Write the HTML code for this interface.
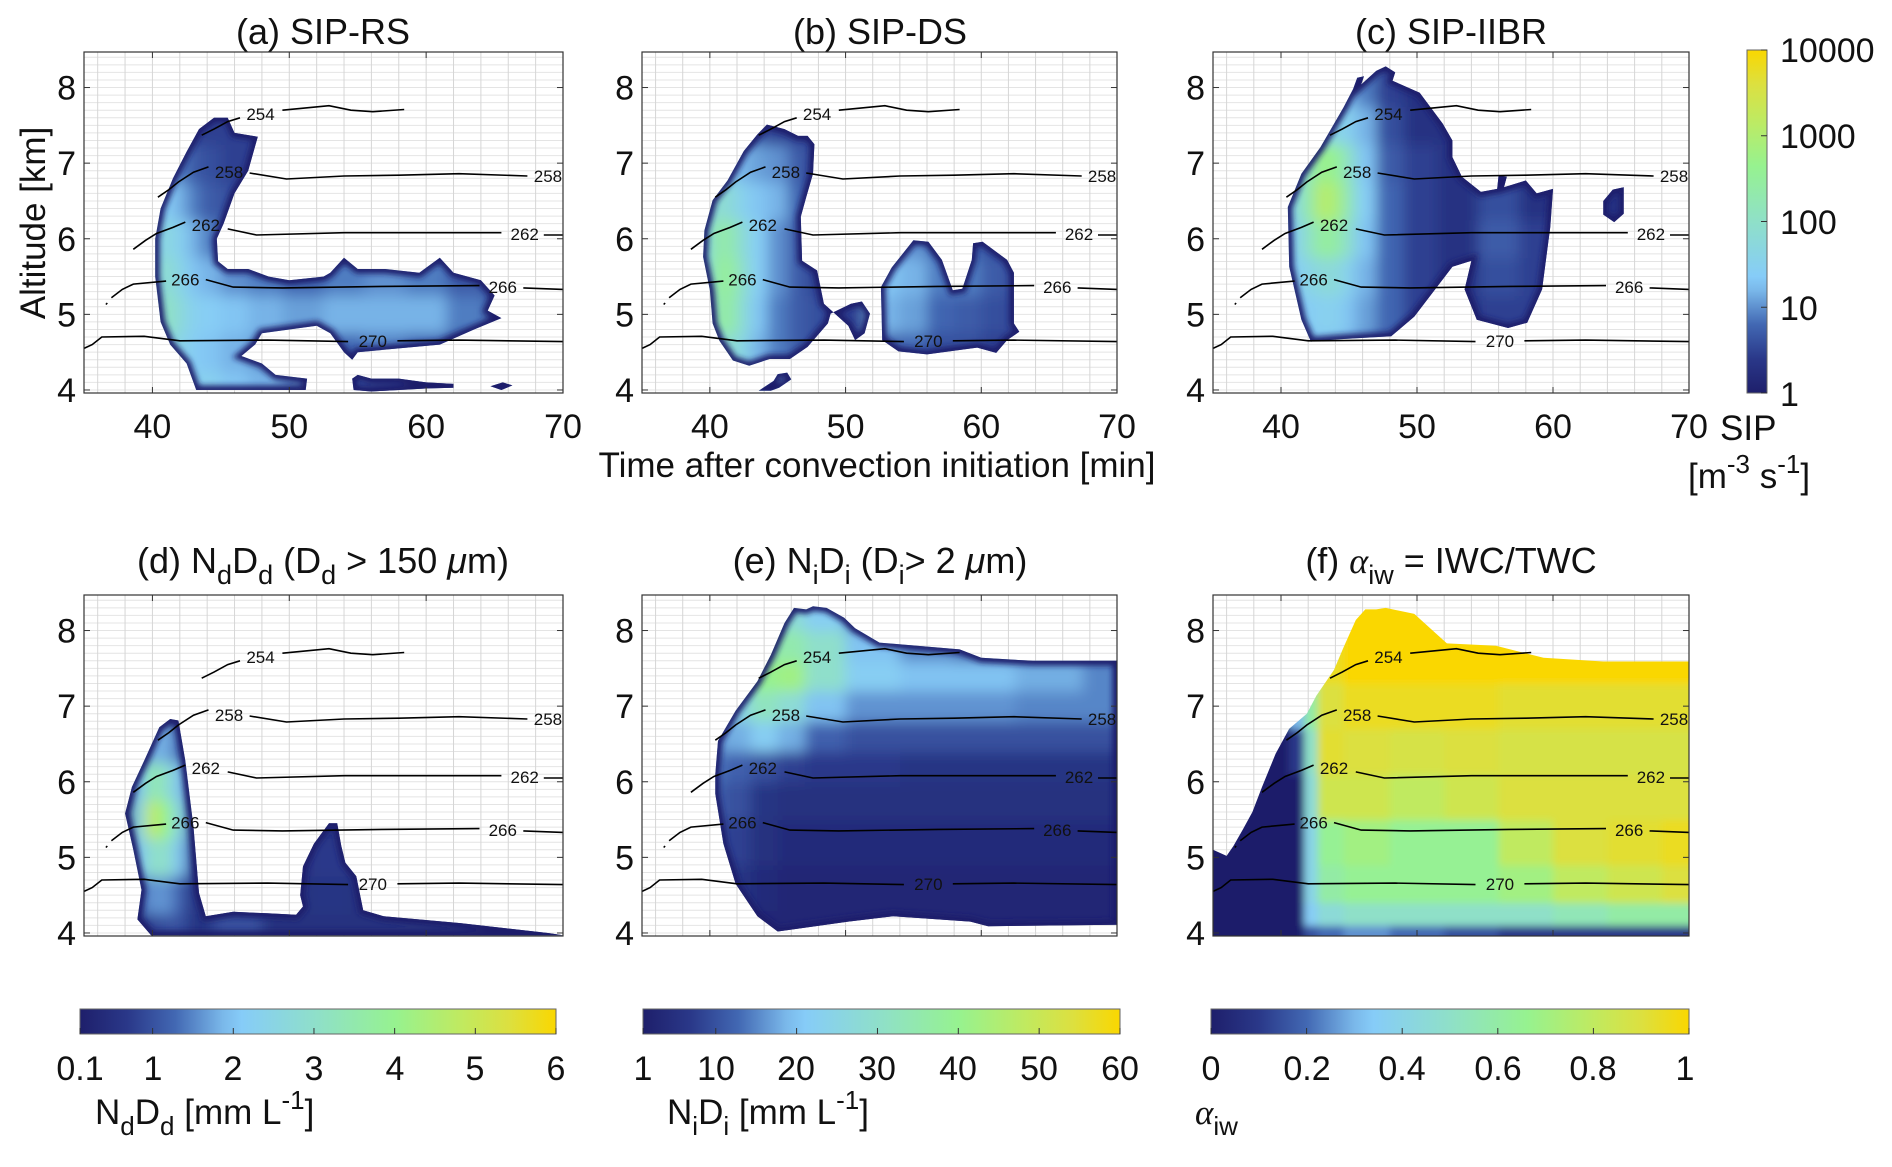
<!DOCTYPE html>
<html><head><meta charset="utf-8"><style>
body{margin:0;background:#fff;position:relative}
svg text{font-family:"Liberation Sans",sans-serif;fill:#111}
</style></head><body>
<svg id="fig" xmlns="http://www.w3.org/2000/svg" width="1892" height="1162" viewBox="0 0 1892 1162"></svg>
<script>
// ---------- data ----------
const xTicks=[40,50,60,70];
const yTicks=[4,5,6,7,8];
const contourLevels=[254,258,262,266,270];
const c254=[[[43.6,7.37],[44.5,7.45],[45.5,7.55],[46.4,7.6]],[[49.5,7.7],[52.9,7.76],[54.5,7.7],[56.1,7.68],[58.4,7.71]]];
const c258=[[[40.4,6.55],[41.2,6.65],[41.9,6.75],[43,6.88],[44.1,6.95]],[[47.1,6.87],[49.8,6.79],[54,6.83],[58,6.84],[62.4,6.86],[67.4,6.83]]];
const c262=[[[38.6,5.86],[39.5,5.98],[40.3,6.07],[41.5,6.15],[42.4,6.22]],[[45.5,6.13],[47.6,6.05],[54,6.08],[65.5,6.08]],[[68.6,6.05],[70,6.05]]];
const c266=[[[36.6,5.13],[36.7,5.15]],[[37,5.22],[37.8,5.33],[38.6,5.4],[41,5.44]],[[43.9,5.46],[45.9,5.36],[49.5,5.35],[56.8,5.37],[63.9,5.38]],[[67.1,5.35],[70,5.33]]];
const c270=[[[35,4.55],[35.6,4.6],[36.3,4.7],[39.4,4.71],[42,4.65],[48.4,4.66],[54.3,4.64]],[[57.9,4.65],[62.4,4.66],[70,4.64]]];
const contourLines=[c254,c258,c262,c266,c270];
const contourLabels=[[[47.9,7.65]],[[45.6,6.88],[68.9,6.83]],[[43.9,6.18],[67.2,6.06]],[[42.4,5.46],[65.6,5.36]],[[56.1,4.65]]];

const aOutline=[[43.2,4.0],[42.5,4.35],[41.3,4.6],[40.6,4.9],[40.2,5.5],[40.2,6.0],[40.6,6.4],[41.5,6.8],[42.5,7.15],[43.4,7.45],[44.5,7.6],[45.5,7.6],[46,7.4],[47.7,7.35],[47,6.9],[46,6.6],[45.2,6.2],[44.7,6.0],[44.8,5.7],[45.5,5.6],[47,5.6],[48.5,5.5],[50,5.45],[52.5,5.5],[53,5.55],[54,5.75],[55,5.6],[57,5.6],[59.5,5.55],[61,5.75],[62,5.55],[64,5.45],[65,5.25],[64.5,5.05],[65.5,4.95],[63.5,4.8],[61,4.6],[58,4.55],[55,4.5],[54.6,4.4],[54,4.5],[53,4.75],[52,4.85],[50,4.8],[48,4.75],[47.5,4.6],[46.5,4.45],[48,4.35],[49,4.2],[51.3,4.15],[51.2,4.0]];
const aOutline2=[[54.6,4.15],[55,4.2],[56,4.15],[58,4.15],[60,4.1],[62,4.08],[62,4.03],[60,4.02],[56,3.98],[54.7,4.0]];
const aOutline3=[[64.7,4.05],[65.6,4.1],[66.3,4.06],[65.5,4.0]];
const aT=[40,41,42,43,44,46,48,51,54,57,60,63,66];
const aA=[4.0,4.5,5.0,5.5,6.0,6.5,7.0,7.5];
const aV=[[10,15,20,30,30,20,15,10,4,3,3,3,3],[20,60,40,25,20,15,12,8,6,8,6,4,3],[40,120,60,30,25,20,15,12,15,15,15,8,3],[40,80,40,20,15,10,8,6,8,10,8,5,3],[30,50,30,15,8,5,5,5,5,5,5,5,3],[20,25,15,8,5,4,4,4,4,4,4,4,4],[10,10,8,5,4,3,3,3,3,3,3,3,3],[5,5,4,3,3,3,3,3,3,3,3,3,3]];
const bOutline=[[40.7,4.65],[41.7,4.39],[42.9,4.32],[44.4,4.41],[45.9,4.41],[47.2,4.57],[48.7,4.88],[48.9,5.01],[50.4,5.14],[51.2,5.17],[51.8,5.01],[51.4,4.75],[50.7,4.66],[50.2,4.85],[48.4,5.14],[47.9,5.58],[46.8,5.71],[46.7,6.29],[47.1,6.55],[47.6,6.86],[47.7,7.25],[47.2,7.36],[46.5,7.36],[45.5,7.45],[44.2,7.51],[43.5,7.38],[42.5,7.16],[41.3,6.77],[40.2,6.51],[39.6,6.11],[39.5,5.76],[40,5.32],[40.2,4.88]];
const bOutline2=[[43.6,3.99],[44.7,4.12],[45,4.21],[45.7,4.23],[46,4.14],[45.1,4.03],[44.5,3.99]];
const bOutline3=[[52.7,4.66],[52.6,5.36],[53.4,5.62],[55,5.98],[56.1,5.96],[57.1,5.72],[57.9,5.32],[58.6,5.34],[59.3,5.72],[59.4,5.94],[60.1,5.96],[61.9,5.72],[62.4,5.55],[62.4,4.88],[62.8,4.77],[61.9,4.66],[61.1,4.49],[59.7,4.56],[56,4.47],[53.9,4.51]];
const bT=[39.5,40.5,41.5,42.5,43.5,45,46.5,48,50,53,55,57,59,61,63];
const bA=[4.0,4.5,5.0,5.5,6.0,6.5,7.0,7.5];
const bV=[[20,20,20,20,20,20,20,5,3,3,3,3,3,3,3],[20,60,80,40,15,8,5,4,3,5,6,4,4,3,3],[40,200,250,60,20,8,5,4,3,15,12,6,5,4,3],[40,250,300,80,25,10,5,3,3,20,15,8,8,5,3],[40,200,200,60,25,10,5,3,3,15,10,6,6,4,3],[30,80,60,30,20,15,6,3,3,5,5,4,4,3,3],[20,30,20,15,12,10,5,3,3,3,3,3,3,3,3],[10,8,6,5,4,3,3,3,3,3,3,3,3,3,3]];
const cOutline=[[42.2,4.64],[41.5,4.93],[40.6,5.63],[40.5,6.42],[41.5,6.86],[42.9,7.21],[44.6,7.74],[45.3,7.98],[45.6,8.13],[46.1,8.15],[45.9,8.04],[47.0,8.22],[47.7,8.28],[48.4,8.2],[48.2,8.09],[50.2,7.93],[51.9,7.52],[52.6,7.3],[52.6,7.08],[53.3,6.82],[54.7,6.62],[55.9,6.66],[56.0,6.84],[56.6,6.82],[56.4,6.68],[58.0,6.77],[58.8,6.6],[60.0,6.66],[59.8,6.16],[59.2,5.33],[58.1,4.89],[56.7,4.82],[54.4,4.93],[53.5,5.33],[54.0,5.71],[52.6,5.63],[49.8,4.97],[48.1,4.71],[44.3,4.67]];
const cOutline2=[[63.7,6.5],[64.4,6.65],[65.2,6.68],[65.2,6.33],[64.5,6.22],[63.7,6.32]];
const cT=[40,41,42,43,44,45,46,48,50,53,56,59,64];
const cA=[4.5,5.0,5.5,6.0,6.5,7.0,7.5,8.0];
const cV=[[10,15,20,20,20,15,10,5,3,2,2,2,2],[10,20,25,30,30,20,12,6,3,2,3,3,2],[12,25,40,60,60,30,15,6,3,2,4,3,2],[15,30,100,300,250,80,20,6,3,2,5,3,2],[20,50,200,1200,800,150,25,6,3,2,4,2,2],[20,50,150,500,400,100,20,5,3,2,2,2,2],[15,30,40,50,40,30,15,4,2,2,2,2,2],[10,15,20,20,20,15,8,3,2,2,2,2,2]];
const dOutline=[[38.9,4.18],[39.2,4.57],[38.6,5.1],[38.0,5.58],[38.5,5.93],[39.4,6.28],[40.5,6.72],[41.3,6.83],[41.9,6.81],[42.4,6.28],[43,5.4],[43.4,4.53],[43.9,4.22],[45.9,4.28],[48.4,4.26],[50.5,4.24],[51,4.35],[50.8,4.5],[51,4.88],[51.8,5.18],[52.9,5.45],[53.5,5.45],[53.8,5.15],[54.1,4.93],[54.9,4.75],[55.4,4.3],[56.9,4.22],[62.5,4.13],[68.9,4.0],[70,3.97],[39.9,3.97]];
const dT=[38,39,40,41,42,43,46,50,53,56,62,68];
const dA=[4.0,4.5,5.0,5.5,6.0,6.5,7.0];
const dV=[[0.5,0.5,0.8,1.0,1.0,0.6,1.0,0.5,0.5,0.5,0.5,0.5],[0.5,1.2,1.6,1.6,1.2,0.6,0.5,0.5,0.6,0.5,0.5,0.5],[0.5,2.0,3.0,3.0,2.0,0.7,0.5,0.5,0.7,0.5,0.5,0.5],[0.5,2.5,4.8,4.0,2.5,0.8,0.5,0.5,0.6,0.5,0.5,0.5],[0.5,2.0,3.5,3.0,2.0,0.8,0.5,0.5,0.5,0.5,0.5,0.5],[0.5,1.0,1.8,1.8,1.2,0.6,0.5,0.5,0.5,0.5,0.5,0.5],[0.5,0.6,0.8,0.8,0.6,0.5,0.5,0.5,0.5,0.5,0.5,0.5]];
const eOutline=[[40.4,6.1],[40.6,6.54],[41.9,6.94],[43.5,7.33],[44.5,7.68],[45.5,8.1],[46.2,8.3],[47.1,8.28],[47.6,8.32],[48.6,8.3],[49.9,8.17],[50.7,8.03],[52.5,7.84],[58.4,7.75],[60,7.64],[63.8,7.6],[70,7.6],[70,4.11],[60.5,4.09],[59.2,4.15],[53.5,4.22],[50.2,4.15],[45.8,4.04],[45.0,4.02],[43.5,4.22],[41.9,4.65],[41,5.18],[40.4,5.84]];
const eT=[40,42,44,46,48,52,56,60,65,70];
const eA=[4.0,4.6,5.2,5.8,6.2,6.6,7.0,7.4,7.8,8.2];
const eV=[[4,4,3,3,3,3,3,3,3,3],[8,6,4,3,3,3,3,3,3,3],[10,8,5,4,4,4,4,4,4,4],[12,10,6,5,5,5,5,5,5,5],[14,12,10,8,7,7,6,6,6,6],[16,18,22,18,12,10,10,10,10,10],[16,25,32,28,20,16,16,16,15,15],[16,28,40,42,30,22,20,20,18,15],[16,28,35,35,30,20,15,12,12,10],[16,25,30,28,22,15,12,10,10,10]];
const fOutline=[[35,3.96],[35,5.1],[36,5.02],[36.5,5.15],[37.2,5.37],[37.9,5.6],[38.6,5.93],[39.6,6.37],[40.6,6.7],[41.9,6.9],[42.6,7.14],[43.9,7.48],[44.6,7.78],[45.5,8.14],[46.2,8.28],[47,8.28],[47.7,8.3],[49.8,8.22],[52.2,7.83],[55.8,7.8],[59.3,7.64],[63.7,7.59],[70,7.59],[70,3.96]];
const fT=[35,40,41.2,42.2,43.2,46,50,54,58,62,66,70];
const fA=[4.0,4.2,4.6,5.2,5.8,6.4,7.0,7.6,8.2];
const fV=[[0,0,0,0.15,0.2,0.25,0.2,0.15,0.1,0.1,0.1,0.1],[0,0,0,0.35,0.45,0.5,0.5,0.5,0.5,0.55,0.6,0.6],[0,0,0,0.4,0.6,0.65,0.65,0.65,0.7,0.8,0.85,0.9],[0,0,0,0.4,0.65,0.7,0.65,0.65,0.8,0.9,0.92,0.95],[0,0,0,0.45,0.85,0.85,0.8,0.85,0.9,0.9,0.9,0.9],[0,0,0.1,0.5,0.92,0.9,0.88,0.9,0.88,0.88,0.88,0.88],[0,0,0.3,0.6,0.9,0.95,0.95,0.95,0.92,0.92,0.92,0.92],[0,0,0.4,0.7,0.95,1,1,1,1,1,1,1],[0,0,0.4,0.8,1,1,1,1,1,1,1,1]];

const sipTicks=[1,10,100,1000,10000];
const dTickVals=[0.1,1,2,3,4,5,6];
const eTickVals=[1,10,20,30,40,50,60];
const fTickVals=[0,0.2,0.4,0.6,0.8,1];

// ---------- rendering ----------
const NS="http://www.w3.org/2000/svg";
const svg=document.getElementById('fig');
function mk(tag,attrs,parent){const e=document.createElementNS(NS,tag);for(const k in attrs)e.setAttribute(k,attrs[k]);(parent||svg).appendChild(e);return e;}
const cmapStops=[[0,'#1e1f6b'],[0.1,'#2a3889'],[0.2,'#4268b3'],[0.3,'#7ab8ea'],[0.34,'#86ccf8'],[0.5,'#8fe0c8'],[0.66,'#96f290'],[0.8,'#c0ea60'],[0.9,'#dce040'],[1,'#fad700']];
function hex(h){return [parseInt(h.substr(1,2),16),parseInt(h.substr(3,2),16),parseInt(h.substr(5,2),16)];}
function cmap(n){n=Math.max(0,Math.min(1,n));for(let i=1;i<cmapStops.length;i++){if(n<=cmapStops[i][0]){const a=cmapStops[i-1],b=cmapStops[i];const f=(n-a[0])/(b[0]-a[0]);const ca=hex(a[1]),cb=hex(b[1]);return 'rgb('+ca.map((v,j)=>Math.round(v+(cb[j]-v)*f)).join(',')+')';}}return cmapStops[cmapStops.length-1][1];}
const normLog=v=>Math.log10(Math.max(1,v))/4;
const normD=v=>(v-0.1)/5.9;
const normE=v=>(v-1)/59;
const normF=v=>v;

const defs=mk('defs',{});
mk('feGaussianBlur',{stdDeviation:7},mk('filter',{id:'blur7',x:'-20%',y:'-20%',width:'140%',height:'140%'},defs));
mk('feGaussianBlur',{stdDeviation:4},mk('filter',{id:'blur4',x:'-20%',y:'-20%',width:'140%',height:'140%'},defs));
mk('feGaussianBlur',{stdDeviation:3},mk('filter',{id:'blur3',x:'-20%',y:'-20%',width:'140%',height:'140%'},defs));

const T0=35,T1=70,A0=3.96,A1=8.47;
const panels=[
 {id:'a',x0:84,x1:563,y0:52,y1:393,outlines:[aOutline,aOutline2,aOutline3],T:aT,A:aA,V:aV,norm:normLog,edge:true,xl:true,blur:'blur7'},
 {id:'b',x0:642,x1:1117,y0:52,y1:393,outlines:[bOutline,bOutline2,bOutline3],T:bT,A:bA,V:bV,norm:normLog,edge:true,xl:true,blur:'blur7'},
 {id:'c',x0:1213,x1:1689,y0:52,y1:393,outlines:[cOutline,cOutline2],T:cT,A:cA,V:cV,norm:normLog,edge:true,xl:true,blur:'blur7'},
 {id:'d',x0:84,x1:563,y0:595,y1:936,outlines:[dOutline],T:dT,A:dA,V:dV,norm:normD,edge:true,xl:false,blur:'blur7'},
 {id:'e',x0:642,x1:1117,y0:595,y1:936,outlines:[eOutline],T:eT,A:eA,V:eV,norm:normE,edge:true,xl:false,blur:'blur7'},
 {id:'f',x0:1213,x1:1689,y0:595,y1:936,outlines:[fOutline],T:fT,A:fA,V:fV,norm:normF,edge:false,xl:false,blur:'blur4'}
];
panels.forEach(p=>{
 const sx=t=>p.x0+(t-T0)/(T1-T0)*(p.x1-p.x0);
 const sy=a=>p.y1-(a-A0)/(A1-A0)*(p.y1-p.y0);
 const g=mk('g',{});
 
 
 const gg=mk('g',{stroke:'#e4e4e4','stroke-width':1},g);
 
 
 for(let a=4.0;a<8.45;a+=0.1)mk('line',{x1:p.x0,x2:p.x1,y1:sy(a),y2:sy(a)},gg);
 for(let t=36;t<70;t+=2)mk('line',{x1:sx(t),x2:sx(t),y1:p.y0,y2:p.y1,stroke:'#d6d6d6'},gg);
 const cp=mk('clipPath',{id:'clip'+p.id},defs);
 const dstr=p.outlines.map(o=>'M'+o.map(q=>sx(q[0]).toFixed(1)+','+sy(q[1]).toFixed(1)).join('L')+'Z').join(' ');
 mk('path',{d:dstr},cp);
 const fg=mk('g',{'clip-path':'url(#clip'+p.id+')'},g);
 
 
 const cells=mk('g',{filter:'url(#'+p.blur+')'},fg);
 const bT=p.T.map((t,i)=>i==0?T0-5:(t+p.T[i-1])/2);bT.push(T1+5);
 const bA=p.A.map((a,i)=>i==0?A0-1:(a+p.A[i-1])/2);bA.push(A1+1);
 p.V.forEach((row,j)=>row.forEach((v,i)=>{
  const r=mk('rect',{x:sx(bT[i]),y:sy(bA[j+1]),width:sx(bT[i+1])-sx(bT[i])+0.5,height:sy(bA[j])-sy(bA[j+1])+0.5,fill:cmap(p.norm(v))},cells);
  
  
 }));
 if(p.edge){mk('path',{d:dstr,fill:'none',stroke:'#1e1f6b','stroke-width':9,filter:'url(#blur3)'},fg);}
 const cg=mk('g',{fill:'none',stroke:'#000','stroke-width':1.6},g);
 
 
 contourLines.forEach((segs,k)=>{
  segs.forEach(s=>{const pl=mk('polyline',{points:s.map(q=>sx(q[0]).toFixed(1)+','+sy(q[1]).toFixed(1)).join(' ')},cg);
   
   });
  contourLabels[k].forEach(L=>{const tx=mk('text',{x:sx(L[0]),y:sy(L[1])+6,'text-anchor':'middle','font-size':17},g);tx.textContent=contourLevels[k];
   
   });
 });
 const ax=mk('rect',{x:p.x0,y:p.y0,width:p.x1-p.x0,height:p.y1-p.y0,fill:'none',stroke:'#333','stroke-width':1.2},g);
 
 
 yTicks.forEach(v=>{mk('line',{x1:p.x0,x2:p.x0+6,y1:sy(v),y2:sy(v),stroke:'#333'},g);mk('line',{x1:p.x1,x2:p.x1-6,y1:sy(v),y2:sy(v),stroke:'#333'},g);
  const t=mk('text',{x:p.x0-8,y:sy(v)+12,'text-anchor':'end','font-size':34},g);t.textContent=v;
  
  });
 xTicks.forEach(v=>{mk('line',{x1:sx(v),x2:sx(v),y1:p.y1,y2:p.y1-6,stroke:'#333'},g);mk('line',{x1:sx(v),x2:sx(v),y1:p.y0,y2:p.y0+6,stroke:'#333'},g);
  if(p.xl){const t=mk('text',{x:sx(v),y:p.y1+45,'text-anchor':'middle','font-size':34},g);t.textContent=v;
  
  }});
});
</script>
<svg xmlns="http://www.w3.org/2000/svg" width="1892" height="1162" style="position:absolute;left:0;top:0" font-family="Liberation Sans, sans-serif">
 <defs>
  <linearGradient id="cbh" x1="0" x2="1" y1="0" y2="0">
   <stop offset="0" stop-color="#1e1f6b"/><stop offset="0.1" stop-color="#2a3889"/><stop offset="0.2" stop-color="#4268b3"/><stop offset="0.3" stop-color="#7ab8ea"/><stop offset="0.34" stop-color="#86ccf8"/><stop offset="0.5" stop-color="#8fe0c8"/><stop offset="0.66" stop-color="#96f290"/><stop offset="0.8" stop-color="#c0ea60"/><stop offset="0.9" stop-color="#dce040"/><stop offset="1" stop-color="#fad700"/>
  </linearGradient>
  <linearGradient id="cbv" x1="0" x2="0" y1="1" y2="0">
   <stop offset="0" stop-color="#1e1f6b"/><stop offset="0.1" stop-color="#2a3889"/><stop offset="0.2" stop-color="#4268b3"/><stop offset="0.3" stop-color="#7ab8ea"/><stop offset="0.34" stop-color="#86ccf8"/><stop offset="0.5" stop-color="#8fe0c8"/><stop offset="0.66" stop-color="#96f290"/><stop offset="0.8" stop-color="#c0ea60"/><stop offset="0.9" stop-color="#dce040"/><stop offset="1" stop-color="#fad700"/>
  </linearGradient>
 </defs>
 <g font-size="36" fill="#111" text-anchor="middle">
  <text x="323" y="44">(a) SIP-RS</text>
  <text x="880" y="44">(b) SIP-DS</text>
  <text x="1451" y="44">(c) SIP-IIBR</text>
  <text x="323" y="573">(d) N<tspan font-size="27" dy="11">d</tspan><tspan dy="-11">D</tspan><tspan font-size="27" dy="11">d</tspan><tspan dy="-11"> (D</tspan><tspan font-size="27" dy="11">d</tspan><tspan dy="-11"> &gt; 150 </tspan><tspan font-style="italic">μ</tspan>m)</text>
  <text x="880" y="573">(e) N<tspan font-size="27" dy="11">i</tspan><tspan dy="-11">D</tspan><tspan font-size="27" dy="11">i</tspan><tspan dy="-11"> (D</tspan><tspan font-size="27" dy="11">i</tspan><tspan dy="-11">&gt; 2 </tspan><tspan font-style="italic">μ</tspan>m)</text>
  <text x="1451" y="573">(f) <tspan font-family="Liberation Serif, serif" font-style="italic">α</tspan><tspan font-size="27" dy="11">iw</tspan><tspan dy="-11"> = IWC/TWC</tspan></text>
  <text x="877" y="477" font-size="35">Time after convection initiation [min]</text>
  <text x="0" y="0" font-size="35" transform="translate(45,223) rotate(-90)">Altitude [km]</text>
 </g>
 <g>
  <rect x="1747" y="50" width="20" height="343" fill="url(#cbv)" stroke="#666"/>
  <g font-size="34" fill="#111">
   <text x="1780" y="62">10000</text><text x="1780" y="148">1000</text><text x="1780" y="234">100</text><text x="1780" y="320">10</text><text x="1780" y="406">1</text>
   <text x="1720" y="440" font-size="35">SIP</text>
   <text x="1688" y="488" font-size="35">[m<tspan font-size="26" dy="-15">-3</tspan><tspan dy="15"> s</tspan><tspan font-size="26" dy="-15">-1</tspan><tspan dy="15">]</tspan></text>
  </g>
 </g>
 <g>
  <rect x="80" y="1009" width="476" height="25" fill="url(#cbh)" stroke="#666"/>
  <g font-size="34" fill="#111" text-anchor="middle">
   <text x="80" y="1080">0.1</text><text x="153" y="1080">1</text><text x="233" y="1080">2</text><text x="314" y="1080">3</text><text x="395" y="1080">4</text><text x="475" y="1080">5</text><text x="556" y="1080">6</text>
  </g>
  <text font-size="35" x="95" y="1124">N<tspan font-size="26" dy="11">d</tspan><tspan dy="-11">D</tspan><tspan font-size="26" dy="11">d</tspan><tspan dy="-11"> [mm L</tspan><tspan font-size="26" dy="-15">-1</tspan><tspan dy="15">]</tspan></text>
 </g>
 <g>
  <rect x="643" y="1009" width="477" height="25" fill="url(#cbh)" stroke="#666"/>
  <g font-size="34" fill="#111" text-anchor="middle">
   <text x="643" y="1080">1</text><text x="716" y="1080">10</text><text x="796" y="1080">20</text><text x="877" y="1080">30</text><text x="958" y="1080">40</text><text x="1039" y="1080">50</text><text x="1120" y="1080">60</text>
  </g>
  <text font-size="35" x="667" y="1124">N<tspan font-size="26" dy="11">i</tspan><tspan dy="-11">D</tspan><tspan font-size="26" dy="11">i</tspan><tspan dy="-11"> [mm L</tspan><tspan font-size="26" dy="-15">-1</tspan><tspan dy="15">]</tspan></text>
 </g>
 <g>
  <rect x="1211" y="1009" width="478" height="25" fill="url(#cbh)" stroke="#666"/>
  <g font-size="34" fill="#111" text-anchor="middle">
   <text x="1211" y="1080">0</text><text x="1307" y="1080">0.2</text><text x="1402" y="1080">0.4</text><text x="1498" y="1080">0.6</text><text x="1593" y="1080">0.8</text><text x="1685" y="1080">1</text>
  </g>
  <text font-size="35" x="1195" y="1124"><tspan font-family="Liberation Serif, serif" font-style="italic">α</tspan><tspan font-size="26" dy="11">iw</tspan></text>
 </g>
</svg>
<script>
(function(){
 const s=document.querySelectorAll('svg')[1];
 function tk(x1,y1,x2,y2){const l=document.createElementNS("http://www.w3.org/2000/svg",'line');l.setAttribute('x1',x1);l.setAttribute('y1',y1);l.setAttribute('x2',x2);l.setAttribute('y2',y2);l.setAttribute('stroke','#333');
  
  
  s.appendChild(l);}
 dTickVals.forEach(v=>{const x=80+(v-0.1)/5.9*476;tk(x,1034,x,1028);});
 eTickVals.forEach(v=>{const x=643+(v-1)/59*477;tk(x,1034,x,1028);});
 fTickVals.forEach(v=>{const x=1211+v*478;tk(x,1034,x,1028);});
 sipTicks.forEach(v=>{const y=393-Math.log10(v)/4*343;tk(1767,y,1761,y);});
})();
</script>
</body></html>
